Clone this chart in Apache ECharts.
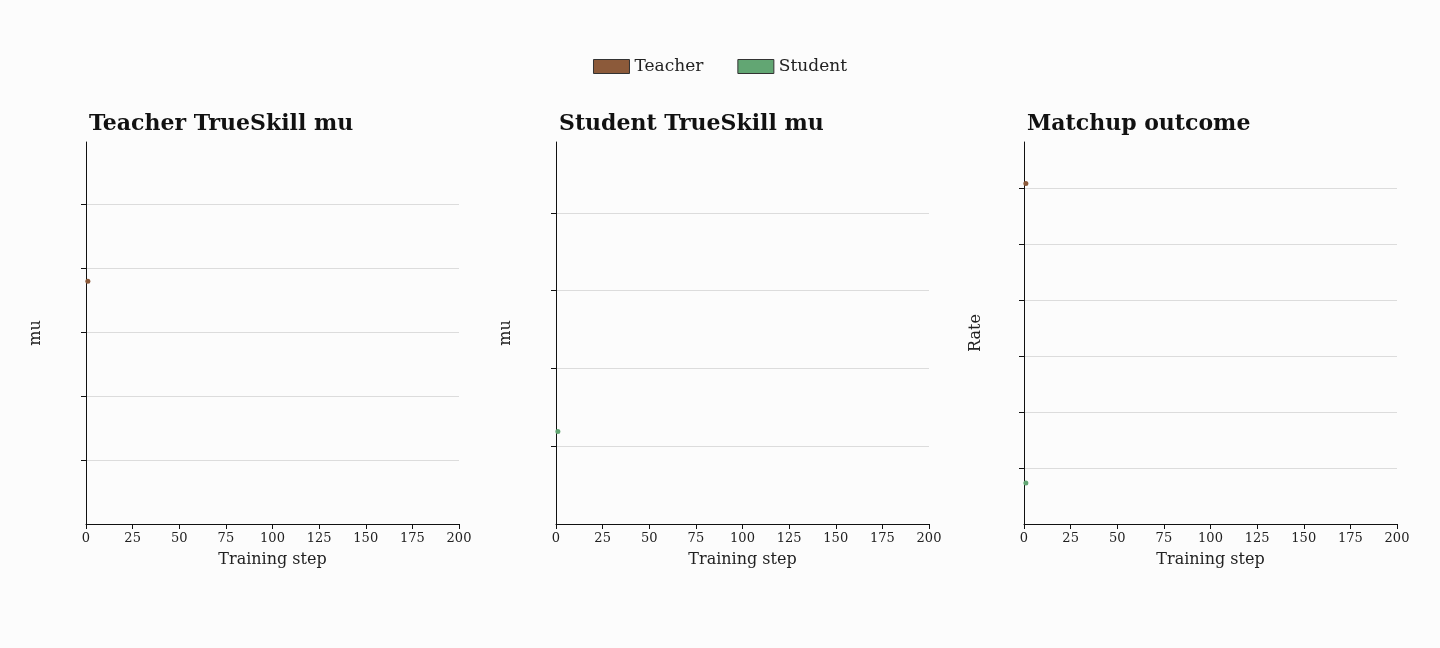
<!DOCTYPE html><html><head><meta charset="utf-8"><script src="https://cdn.jsdelivr.net/npm/echarts@6/dist/echarts.min.js"></script>
<style>body{margin:0;background:#fcfcfc}#c{width:1440px;height:648px}</style></head><body><div id="c"></div><script>
const steps=[1];
const teacherMu=[30.3];
const studentMu=[19.6];
const teacherRate=[0.767];
const studentRate=[0.232];
const titles=['Teacher TrueSkill mu','Student TrueSkill mu','Matchup outcome'];
const cT='#8c5a3a', cS='#62a673';
const F='DejaVu Serif';
const lefts=[86,556,1024];
const yCfg=[{min:11.33,max:41.17,interval:5,name:'mu'},{min:13.65,max:38.2,interval:5,name:'mu'},{min:0.159,max:0.841,interval:0.1,name:'Rate'}];
const grid=[],xAxis=[],yAxis=[],title=[];
lefts.forEach((l,i)=>{
 grid.push({left:l,width:373,top:142,height:382});
 title.push({text:titles[i],left:l-2,top:108,textStyle:{fontFamily:F,fontSize:22,fontWeight:'bold',color:'#111'}});
 xAxis.push({gridIndex:i,type:'value',min:0,max:200,interval:25,name:'Training step',nameLocation:'middle',nameGap:28,nameTextStyle:{fontFamily:F,fontSize:16,color:'#222'},
  axisLine:{lineStyle:{color:'#111'}},axisTick:{length:5,lineStyle:{color:'#111'}},axisLabel:{fontFamily:F,fontSize:13,color:'#222',margin:8},splitLine:{show:false}});
 const y=yCfg[i];
 yAxis.push({gridIndex:i,type:'value',min:y.min,max:y.max,interval:y.interval,name:y.name,nameLocation:'middle',nameGap:i==2?40:42,nameTextStyle:{fontFamily:F,fontSize:16,color:'#222'},
  axisLine:{show:true,lineStyle:{color:'#111'}},axisTick:{show:true,length:5,lineStyle:{color:'#111'},customValues:undefined},
  axisLabel:{fontFamily:F,fontSize:13,color:'#222',showMinLabel:false,showMaxLabel:false,formatter:v=>{const r=v/y.interval;return Math.abs(r-Math.round(r))<1e-6?(y.interval<1?v.toFixed(1):String(Math.round(v))):'';}},
  splitLine:{show:true,showMinLine:false,showMaxLine:false,lineStyle:{color:'#dcdcdc'}}});
});
const pts=a=>steps.map((s,k)=>[s,a[k]]);
const mk=(name,c,data,i)=>({name,type:'line',xAxisIndex:i,yAxisIndex:i,data:pts(data),symbol:'circle',symbolSize:5,itemStyle:{color:c},lineStyle:{color:c,width:2}});
const series=[mk('Teacher',cT,teacherMu,0),mk('Student',cS,studentMu,1),mk('Teacher',cT,teacherRate,2),mk('Student',cS,studentRate,2)];
const ch=echarts.init(document.getElementById('c'));
ch.setOption({backgroundColor:'#fcfcfc',animation:false,title,grid,xAxis,yAxis,series,
 legend:{top:53,left:'center',icon:'rect',itemWidth:36,itemHeight:14,itemGap:34,textStyle:{fontFamily:F,fontSize:17,color:'#222'},
  data:[{name:'Teacher',itemStyle:{color:cT,borderColor:'#333',borderWidth:1}},{name:'Student',itemStyle:{color:cS,borderColor:'#333',borderWidth:1}}]}});
</script></body></html>
